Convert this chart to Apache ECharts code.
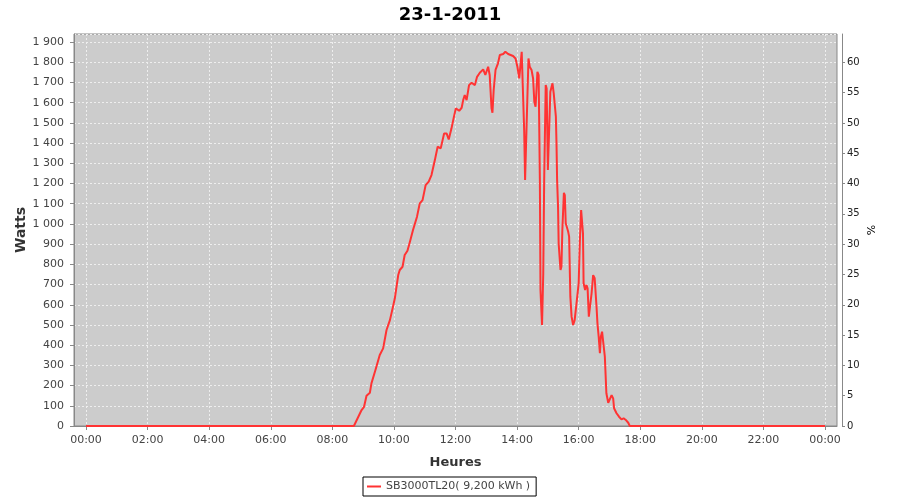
<!DOCTYPE html>
<html>
<head>
<meta charset="utf-8">
<script src="https://cdn.jsdelivr.net/npm/echarts@6/dist/echarts.min.js"></script>
<style>
html,body{margin:0;padding:0;background:#fff;}
#chart{width:900px;height:500px;}
</style>
</head>
<body>
<div id="chart"></div>
<script>
const title = '23-1-2011';
const seriesName = 'SB3000TL20( 9,200 kWh )';
const hours = [0, 8.70, 8.95, 9.03, 9.11, 9.22, 9.27, 9.40, 9.54, 9.65, 9.76,
  9.87, 9.97, 10.03, 10.14, 10.19, 10.28, 10.35, 10.44, 10.52, 10.62,
  10.75, 10.84, 10.93, 11.03, 11.13, 11.22, 11.33, 11.42, 11.52, 11.63,
  11.71, 11.78, 11.87, 11.95, 12.01, 12.12, 12.20, 12.25, 12.30, 12.36,
  12.44, 12.52, 12.63, 12.70, 12.79, 12.90, 12.97, 13.06, 13.11, 13.17,
  13.20, 13.24, 13.30, 13.38, 13.44, 13.55, 13.62, 13.71, 13.87, 13.95,
  14.01, 14.07, 14.11, 14.15, 14.19, 14.23, 14.26, 14.29, 14.32, 14.37,
  14.41, 14.47, 14.52, 14.56, 14.60, 14.63, 14.66, 14.70, 14.74, 14.76,
  14.81, 14.85, 14.88, 14.93, 14.96, 15.00, 15.04, 15.08, 15.15, 15.19,
  15.26, 15.28, 15.30, 15.33, 15.35, 15.41, 15.44, 15.47, 15.52, 15.55,
  15.58, 15.66, 15.69, 15.73, 15.77, 15.82, 15.87, 15.93, 16.00, 16.04,
  16.08, 16.12, 16.14, 16.16, 16.21, 16.25, 16.29, 16.33, 16.36, 16.42,
  16.47, 16.52, 16.58, 16.61, 16.65, 16.69, 16.72, 16.76, 16.80, 16.85,
  16.90, 16.96, 17.01, 17.07, 17.12, 17.15, 17.23, 17.31, 17.39, 17.46,
  17.53, 17.61, 17.66, 24];
const watts = [0, 0, 79, 95, 150, 165, 211, 277, 351, 384, 475,
  524, 590, 632, 747, 772, 788, 846, 867, 912, 970,
  1036, 1102, 1118, 1192, 1209, 1242, 1316, 1382, 1374, 1448,
  1448, 1418, 1473, 1531, 1572, 1560, 1575, 1613, 1638, 1613,
  1687, 1699, 1687, 1728, 1748, 1765, 1737, 1778, 1737, 1572,
  1550, 1663, 1762, 1795, 1836, 1841, 1852, 1841, 1831, 1819,
  1778, 1720, 1728, 1852, 1845, 1465, 1217, 1217, 1547, 1819,
  1778, 1762, 1720, 1605, 1580, 1663, 1753, 1737, 1217, 673,
  500, 755, 1217, 1687, 1670, 1267, 1258, 1654, 1696, 1646,
  1531, 1399, 1217, 1085, 904, 772, 788, 970, 1154, 1143,
  1003, 961, 937, 640, 541, 500, 524, 607, 706, 920,
  1069, 1077, 953, 706, 673, 698, 681, 541, 549, 657,
  747, 731, 590, 508, 442, 360, 442, 467, 458, 343,
  162, 115, 112, 153, 137, 88, 63, 46, 33, 38,
  30, 16, 0, 0];
const leftAxisName = 'Watts';
const rightAxisName = '%';
const xAxisName = 'Heures';

const FONT = 'DejaVu Sans';
const chart = echarts.init(document.getElementById('chart'), null, {renderer: 'canvas'});
const data = hours.map((h, i) => [h, watts[i]]);
const pad = n => (n < 10 ? '0' : '') + n;
const YMAX = 1940;

chart.setOption({
  animation: false,
  backgroundColor: '#ffffff',
  title: {
    text: title, left: 'center', top: 1,
    textStyle: {fontFamily: FONT, fontSize: 18, fontWeight: 'bold', color: '#000'}
  },
  legend: {
    left: 363, top: 477,
    padding: [4, 6, 4, 4],
    borderColor: '#000', borderWidth: 1,
    itemWidth: 14, itemHeight: 2, itemGap: 4,
    icon: 'rect',
    textStyle: {fontFamily: FONT, fontSize: 11, color: '#444'},
    data: [seriesName]
  },
  grid: [
    {left: 74, right: 63, top: 34, height: 392, show: true, backgroundColor: '#cccccc', borderColor: '#888', borderWidth: 1},
    {left: 86, right: 75, top: 34, height: 392}
  ],
  xAxis: [
    {type: 'value', gridIndex: 0, min: 0, max: 1, offset: 4, show: true,
      axisLine: {show: true, lineStyle: {color: '#888'}}, axisTick: {show: false}, axisLabel: {show: false}, splitLine: {show: false}},
    {type: 'value', gridIndex: 1, min: 0, max: 24, interval: 2, offset: 4,
      name: xAxisName, nameLocation: 'middle', nameGap: 26,
      nameTextStyle: {fontFamily: FONT, fontSize: 13, fontWeight: 'bold', color: '#333'},
      axisLine: {show: false},
      axisTick: {show: true, length: 4, lineStyle: {color: '#888'}},
      axisLabel: {fontFamily: FONT, fontSize: 11, color: '#444', margin: 5,
        formatter: v => pad(Math.round(v) % 24) + ':00'},
      splitLine: {show: true, lineStyle: {color: '#eeeeee', type: [2, 2], width: 1}}}
  ],
  yAxis: [
    {type: 'value', gridIndex: 0, min: 0, max: YMAX, interval: 100, position: 'left', offset: 3,
      name: leftAxisName, nameLocation: 'middle', nameGap: 43, nameRotate: 90, nameMoveOverlap: false,
      nameTextStyle: {fontFamily: FONT, fontSize: 14, fontWeight: 'bold', color: '#333'},
      axisLine: {show: true, lineStyle: {color: '#888'}},
      axisTick: {show: true, length: 4, lineStyle: {color: '#888'}},
      axisLabel: {fontFamily: FONT, fontSize: 11, color: '#444', margin: 7, showMaxLabel: false,
        formatter: v => v >= 1000 ? Math.floor(v / 1000) + ' ' + String(v % 1000).padStart(3, '0') : String(v)},
      splitLine: {show: true, lineStyle: {color: '#eeeeee', type: [2, 2], width: 1}}},
    {type: 'value', gridIndex: 0, min: 0, max: YMAX / 30, interval: 5, position: 'right', offset: 5,
      name: rightAxisName, nameLocation: 'middle', nameGap: 25, nameRotate: 90, nameMoveOverlap: false,
      nameTextStyle: {fontFamily: FONT, fontSize: 11, color: '#000'},
      axisLine: {show: true, lineStyle: {color: '#888'}},
      axisTick: {show: true, length: 3, lineStyle: {color: '#888'}},
      axisLabel: {fontFamily: FONT, fontSize: 10, color: '#222', margin: 5, showMaxLabel: false},
      splitLine: {show: false}},
    {type: 'value', gridIndex: 1, min: 0, max: YMAX, show: false}
  ],
  series: [{
    name: seriesName,
    type: 'line',
    xAxisIndex: 1, yAxisIndex: 2,
    data: data,
    showSymbol: false,
    symbol: 'none',
    lineStyle: {color: '#ff3333', width: 2},
    itemStyle: {color: '#ff3333'},
    z: 5
  }]
});
</script>
</body>
</html>
